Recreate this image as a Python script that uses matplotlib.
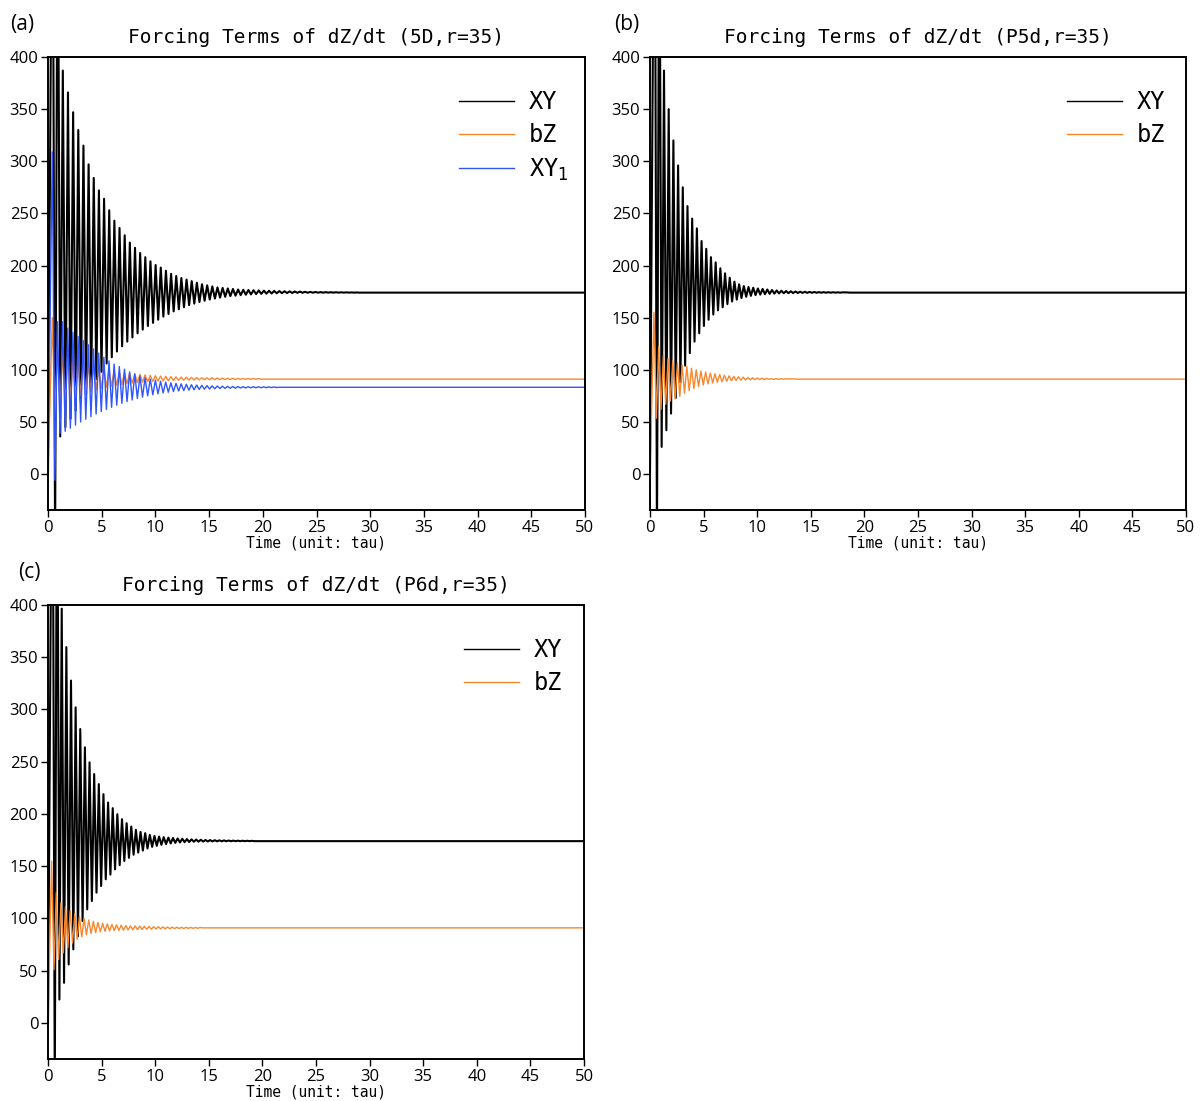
import numpy as np
import matplotlib
matplotlib.use("Agg")
import matplotlib.pyplot as plt

# ---------------- data ----------------
T_END = 50.0
TICKS_X = list(range(0, 51, 5))
TICKS_Y = list(range(0, 401, 50))
YLIM = (-34.5, 400)

# Panel (a) 5D, XY (black)
a_xy_t0, a_xy_period = 0.42, 0.48
a_xy_peaks = [650, 600, 387, 366, 347, 330, 315, 297, 284, 272, 264, 253, 243, 236, 229, 222,
              217, 212, 208, 204, 200.5, 198, 195, 192, 190, 188, 186.5, 185, 183.5, 182, 181,
              180, 179, 178.5, 178, 177.5, 177, 176.7, 176.5, 176.3, 176.1, 175.9, 175.8, 175.6,
              175.5, 175.3, 175.2, 175.1, 175, 174.8, 174.7, 174.6, 174.5, 174.45, 174.4, 174.35,
              174.3, 174.25, 174.2, 174.15]
a_xy_troughs = [-70, 36, 45, 53, 61, 69, 77, 84, 91, 98, 106, 112, 117.5, 122.5, 127, 131, 135,
                138.5, 142, 145, 148, 151, 153.5, 156, 158, 160, 162, 163.5, 165, 166.2, 167.3,
                168.3, 169.2, 170, 170.6, 171.1, 171.6, 172, 172.3, 172.6, 172.8, 173, 173.2,
                173.4, 173.5, 173.6, 173.7, 173.8, 173.85, 173.9, 173.95, 173.97, 173.98, 173.99,
                174, 174, 174, 174, 174]
a_xy_eq = 174.0

# Panel (a) 5D, bZ (orange)
a_bz_t0, a_bz_period = 0.40, 0.48
a_bz_peaks = [150, 122, 118, 115, 112.5, 110, 108, 106, 104.5, 103, 101.5, 100.3, 99.2, 98.2, 97.4,
              96.7, 96.1, 95.6, 95.1, 94.7, 94.3, 94, 93.7, 93.4, 93.2, 93, 92.8, 92.6, 92.5, 92.4,
              92.3, 92.2, 92.1, 92, 91.9, 91.85, 91.8, 91.75, 91.7, 91.65, 91.6]
a_bz_troughs = [55, 62, 66, 69.5, 72.5, 75, 77, 79, 80.6, 82, 83.2, 84.2, 85.1, 85.9, 86.6, 87.2,
                87.7, 88.1, 88.5, 88.8, 89.1, 89.3, 89.5, 89.7, 89.9, 90, 90.1, 90.2, 90.3, 90.35,
                90.4, 90.45, 90.5, 90.55, 90.6, 90.65, 90.7, 90.75, 90.8, 90.85]
a_bz_eq = 91.0

# Panel (a) 5D, XY1 (blue)
a_xy1_t0, a_xy1_period = 0.40, 0.48
a_xy1_peaks = [309, 146, 146, 140, 136, 132, 128, 124, 120, 116, 112, 108.5, 105.5, 103, 100.5, 98,
               96, 94, 92.3, 91, 90, 89, 88.2, 87.5, 87, 86.5, 86.1, 85.7, 85.4, 85.1, 84.8, 84.6,
               84.4, 84.2, 84.1, 84, 83.9, 83.8, 83.75, 83.7, 83.65, 83.6, 83.55, 83.5]
a_xy1_troughs = [-6, 39, 41, 44, 47, 50, 52.5, 55, 57.5, 60, 62, 64, 66, 67.8, 69.5, 71, 72.5, 73.8,
                 75, 76, 77, 77.8, 78.5, 79.1, 79.6, 80, 80.4, 80.8, 81.1, 81.4, 81.6, 81.8, 82,
                 82.2, 82.3, 82.4, 82.5, 82.6, 82.7, 82.75, 82.8, 82.85, 82.9, 82.95]
a_xy1_eq = 83.2

# Panel (b) P5d, XY (black)
b_xy_t0, b_xy_period = 0.43, 0.438
b_xy_peaks = [650, 600, 387, 350, 320, 296, 275, 257, 245, 235.6, 223.5, 216, 208, 203, 197.3,
              192.5, 188.3, 184.5, 182, 180.3, 179.4, 178.7, 178, 177.5, 177, 176.5, 176.1, 175.8,
              175.5, 175.3, 175.1, 174.9, 174.8, 174.7, 174.6, 174.5, 174.45, 174.4, 174.35,
              174.3, 174.25, 174.2]
b_xy_troughs = [-70, 26, 42, 58, 73, 88, 104, 116, 127, 135, 142, 148, 153, 157, 160, 163, 165.5,
                167.3, 168.8, 170, 170.9, 171.6, 172.1, 172.5, 172.8, 173.05, 173.25, 173.4, 173.5,
                173.6, 173.7, 173.75, 173.8, 173.85, 173.9, 173.92, 173.94, 173.96, 173.98, 174]
b_xy_eq = 174.0

# Panel (b) P5d, bZ (orange)
b_bz_t0, b_bz_period = 0.37, 0.438
b_bz_peaks = [155, 122, 114, 111, 108.5, 106.5, 104.5, 103, 101.5, 100, 98.8, 97.8, 96.9, 96.1,
              95.4, 94.8, 94.2, 93.7, 93.3, 92.9, 92.6, 92.3, 92.1, 91.9, 91.75, 91.6, 91.5, 91.4,
              91.3, 91.25, 91.2]
b_bz_troughs = [53.5, 62, 67, 70, 72, 74.5, 77.5, 80, 82, 84, 85.4, 86.5, 87.3, 88, 88.5, 89, 89.4,
                89.7, 90, 90.2, 90.35, 90.5, 90.6, 90.7, 90.75, 90.8, 90.85, 90.9]
b_bz_eq = 91.0

# Panel (c) P6d, XY (black)
c_xy_t0, c_xy_period = 0.415, 0.4325
c_xy_peaks = [650, 600, 396.5, 359.7, 327.7, 302, 281.3, 263.8, 249.4, 238.2, 228.6, 219, 211,
              205.6, 199.8, 195, 191.2, 188, 184.8, 182.8, 181.6, 180, 179, 178.4, 177.8, 177.4,
              177, 176.6, 176.3, 176, 175.7, 175.5, 175.3, 175.1, 175, 174.9, 174.8, 174.7,
              174.6, 174.5, 174.45, 174.4, 174.35, 174.3]
c_xy_troughs = [-70, 22.4, 38.4, 56, 70.4, 83, 97.5, 108.7, 116.7, 124.7, 131, 137.5, 142, 147,
                151, 155, 158, 161, 163, 165, 167, 168.5, 169.5, 170.5, 171.2, 171.8, 172.3, 172.7,
                173, 173.2, 173.4, 173.5, 173.6, 173.7, 173.75, 173.8, 173.85, 173.9, 173.92,
                173.94, 173.96, 173.98, 174]
c_xy_eq = 174.0

# Panel (c) P6d, bZ (orange)
c_bz_t0, c_bz_period = 0.34, 0.4325
c_bz_peaks = [155, 124.7, 115, 111.3, 107.5, 104.5, 102, 100, 98.5, 97.2, 96.2, 95.4, 94.8, 94.3,
              93.9, 93.5, 93.2, 93, 92.8, 92.6, 92.45, 92.3, 92.15, 92, 91.9, 91.8, 91.7, 91.6,
              91.5, 91.45, 91.4, 91.35, 91.3]
c_bz_troughs = [51, 60.7, 67, 72, 76.5, 80, 82.5, 84.3, 85.6, 86.5, 87.2, 87.7, 88.1, 88.4, 88.6,
                88.8, 89, 89.2, 89.35, 89.5, 89.65, 89.8, 89.9, 90, 90.1, 90.2, 90.3, 90.4, 90.45,
                90.5, 90.55, 90.6]
c_bz_eq = 91.0

TITLES = ["Forcing Terms of dZ/dt (5D,r=35)",
          "Forcing Terms of dZ/dt (P5d,r=35)",
          "Forcing Terms of dZ/dt (P6d,r=35)"]
PANEL_LABELS = ["(a)", "(b)", "(c)"]
XLABEL = "Time (unit: tau)"
LABELS = ["XY", "bZ", "XY$_1$"]

BLACK = "#000000"
ORANGE = "#f7882f"
BLUE = "#2f55ff"

THIN_FONT = "DejaVu Sans Mono"


def series(t0, period, peaks, troughs, eq, start=0.0):
    tp = t0 + period * np.arange(len(peaks))
    tt = t0 + period / 2 + period * np.arange(len(troughs))
    t = np.concatenate([[0.0], tp, tt])
    v = np.concatenate([[start], peaks, troughs])
    order = np.argsort(t)
    t, v = t[order], v[order]
    t = np.append(t, [t[-1] + period / 2, T_END])
    v = np.append(v, [eq, eq])
    return t, v


fig = plt.figure(figsize=(12.01, 11.01), dpi=100)
W, H = 1201.0, 1101.0

def ax_at(l, t, r, b):
    return fig.add_axes([l / W, 1 - b / H, (r - l) / W, (b - t) / H])

axa = ax_at(48, 57, 585, 510)
axb = ax_at(650, 57, 1186, 510)
axc = ax_at(48, 605, 584, 1059)

panels = [
    (axa, (578 - 48) / 537,
     [(series(a_xy_t0, a_xy_period, a_xy_peaks, a_xy_troughs, a_xy_eq), BLACK, 1.5, LABELS[0]),
      (series(a_bz_t0, a_bz_period, a_bz_peaks, a_bz_troughs, a_bz_eq), ORANGE, 1.0, LABELS[1]),
      (series(a_xy1_t0, a_xy1_period, a_xy1_peaks, a_xy1_troughs, a_xy1_eq), BLUE, 1.0, LABELS[2])]),
    (axb, (1175 - 650) / 536,
     [(series(b_xy_t0, b_xy_period, b_xy_peaks, b_xy_troughs, b_xy_eq), BLACK, 1.5, LABELS[0]),
      (series(b_bz_t0, b_bz_period, b_bz_peaks, b_bz_troughs, b_bz_eq), ORANGE, 1.0, LABELS[1])]),
    (axc, (572 - 48) / 536,
     [(series(c_xy_t0, c_xy_period, c_xy_peaks, c_xy_troughs, c_xy_eq), BLACK, 1.5, LABELS[0]),
      (series(c_bz_t0, c_bz_period, c_bz_peaks, c_bz_troughs, c_bz_eq), ORANGE, 1.0, LABELS[1])]),
]

for i, (ax, leg_x, lines) in enumerate(panels):
    handles = []
    for (t, v), col, lw, lab in lines:
        h, = ax.plot(t, v, color=col, lw=lw, label=lab)
        handles.append(h)
    ax.set_xlim(0, T_END)
    ax.set_ylim(*YLIM)
    ax.set_xticks(TICKS_X)
    ax.set_yticks(TICKS_Y)
    ax.tick_params(direction="out", length=5, width=1, labelsize=12, pad=2)
    for lbl in ax.get_xticklabels() + ax.get_yticklabels():
        lbl.set_family("Open Sans")
    for sp in ax.spines.values():
        sp.set_linewidth(1.4)
    ax.set_title(TITLES[i], fontsize=14, family=THIN_FONT, pad=10)
    ax.set_xlabel(XLABEL, fontsize=10.5, family=THIN_FONT, labelpad=0)
    leg = ax.legend(handles=handles, loc="upper right", frameon=False,
                    bbox_to_anchor=(leg_x, 1 - 24 / 453), borderaxespad=0,
                    handlelength=2.3, handletextpad=0.65, labelspacing=0.38,
                    prop={"family": THIN_FONT, "size": 17})
    for ln in leg.get_lines():
        ln.set_linewidth(1.0)

fig.text(10 / W, 1 - 30 / H, PANEL_LABELS[0], fontsize=15, family="Open Sans")
fig.text(614 / W, 1 - 30 / H, PANEL_LABELS[1], fontsize=15, family="Open Sans")
fig.text(18 / W, 1 - 578 / H, PANEL_LABELS[2], fontsize=15, family="Open Sans")

fig.savefig("out.png", dpi=100)
